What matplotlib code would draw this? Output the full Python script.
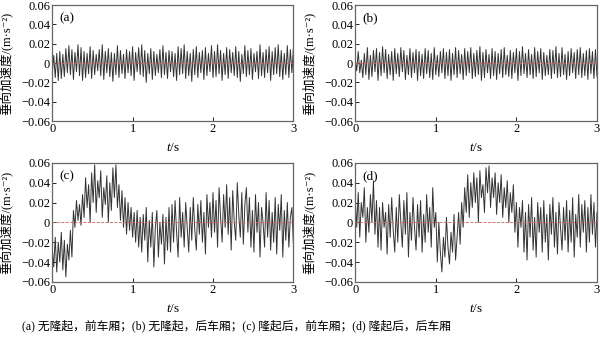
import matplotlib.pyplot as plt
import numpy as np

# ------------------------
# Data (vertical acceleration, in 1e-3 m/s^2)
# ------------------------
acc_a = [
    -12, 8, -15, 10, -18, 12, -16, 9, -14, 15, -10, 18, -12, 14, -17, 11, -9, 19, -13, 16,
    -18, 12, -15, 10, -11, 17, -16, 13, -12, 9, -8, 14, -13, 19, -17, 12, -10, 15, -14, 11,
    -19, 10, -12, 18, -15, 13, -11, 9, -16, 14, -10, 12, -13, 17, -18, 11, -9, 16, -12, 19,
    -14, 13, -20, 10, -11, 15, -17, 12, -13, 9, -10, 14, -15, 18, -12, 11, -16, 13, -9, 12,
    -14, 10, -18, 17, -12, 15, -11, 19, -16, 12, -13, 10, -19, 14, -12, 17, -15, 11, -10, 13,
    -17, 16, -13, 10, -9, 18, -15, 12, -14, 19, -11, 13, -18, 10, -12, 16, -16, 14, -10, 11,
    -13, 17, -15, 12, -19, 9, -11, 18, -14, 13, -12, 15, -17, 10, -9, 12, -16, 19, -13, 11,
    -15, 14, -10, 17, -18, 12, -12, 16, -11, 19, -14, 13, -17, 10, -12, 18, -15, 14, -10, 15,
]
acc_b = [
    5, -8, 12, -10, 3, -15, 10, -12, 16, -17, 8, -14, 13, -9, 15, -18, 11, -13, 17, -10,
    14, -16, 9, -12, 12, -18, 15, -11, 10, -14, 16, -9, 13, -17, 8, -12, 15, -15, 11, -10,
    14, -18, 12, -13, 9, -16, 15, -11, 13, -15, 10, -17, 16, -12, 8, -14, 12, -10, 15, -16,
    11, -13, 14, -18, 10, -12, 16, -15, 13, -11, 9, -17, 15, -13, 12, -10, 16, -16, 10, -14,
    13, -12, 17, -18, 11, -15, 14, -10, 9, -16, 15, -13, 12, -17, 10, -11, 14, -15, 16, -12,
    8, -14, 13, -16, 11, -10, 15, -18, 12, -13, 17, -11, 10, -15, 14, -12, 9, -16, 16, -14,
    12, -10, 15, -17, 11, -13, 8, -12, 14, -16, 13, -11, 17, -15, 10, -14, 16, -12, 9, -17,
    12, -13, 15, -10, 11, -16, 14, -12, 16, -15, 10, -13, 13, -17, 15, -11, 12, -16, 14, -14,
]
acc_c = [
    -25, -45, -15, -50, -20, -40, -10, -48, -18, -55, -22, -38, -8,
    -35, 12, -5, 22, 2, 18, -3, 28,
    5, 45, 15, 38, 0, 50, 20, 58, 10, 42, 25, 52, 5, 35, 18, 47, 0, 40, 12, 55, 25, 58, 15, 38,
    2, 32, -5, 25, -12, 20, -8, 15, -15, 10, -20, 12, -25,
    5, -30, 8, -18, 15, -40, 2, -25, 10, -45, -5, 12, -35, 0, -22, 8, -42, 5, -28, 15, -30,
    18, -20, 22, -10, -35, 25, -15, 10, -25, 20, -5, -30, 15, -18, 25, -8, -28, 18, -12, 22,
    -20, 10, -32, 28, -5, 20, -15,
    30, -10, 22, -25, 35, 5, -20, 28, -5, 38, -12, 25, -28, 32, 0, -18, 40, 8, -15, 30,
    -22, 18, 35, -10, 25, -25, 12,
    -30, 28, -10, 20, -35, 15, 0, -25, 30, -15, 22, -28, 10, -20, 25, -32, 18, -8, 28, -35,
    12, -18, 20, -25, 5, 15, -22,
]
acc_d = [
    25, -5, 30, -15, 20, 5, 35, -20, 15, -10, 28, 0, 42, -12, 22, -25,
    15, -28, 20, -5, 10, -32, 18, -15, 25, -8, -30, 15, -20, 28, 0, -25, 22, -12, 30, -35,
    10, -18, 25, -5, -28, 18, -15, 22, -30, 8, -20, 28, -10, 15, -25,
    35, -5, 10, -40, 0, -30, -50, -15, -35, 5, -25, -42, -10, -30, 8, -38, -15, 10, -22,
    20, -5, 35, 10, 48, 5, 40, 15, 50, 20, 45, 0, 52, 25, 38, 10, 55, 30, 57, 15,
    45, 25, 50, 8, 40, 20, 48, 5, 35, 15, 42, 0, 30, 10, 38,
    -10, 20, -25, 15, -5, 22, -30, 10, -38, 18, -15, 25, -28, 5, -35, 20, -10, 15, -30, 22,
    -20, 8, -38, 18, -12, 25, -25, 10, -32, 20, -5, -28, 15, -18, 22, -30, 12, -20, 25, -35,
    8, -15, 28, -25, 18, -10, 22, -30, 15, -20, 28, -12, 20, -25, 10,
]
panel_tags = ['(a)', '(b)', '(c)', '(d)']
y_ticks = [-0.06, -0.04, -0.02, 0, 0.02, 0.04, 0.06]
y_ticklabels = ['\u22120.06', '\u22120.04', '\u22120.02', '0', '0.02', '0.04', '0.06']
x_ticks = [0, 1, 2, 3]
y_title = '垂向加速度/(m·s\u207b\u00b2)'
caption = '(a) 无隆起，前车厢；(b) 无隆起，后车厢；(c) 隆起后，前车厢；(d) 隆起后，后车厢'

# ------------------------
# Style
# ------------------------
plt.rcParams['font.family'] = ['Liberation Serif', 'Noto Sans CJK SC', 'DejaVu Sans']
plt.rcParams['font.size'] = 9
plt.rcParams['mathtext.fontset'] = 'custom'
plt.rcParams['mathtext.rm'] = 'Liberation Serif'
plt.rcParams['mathtext.it'] = 'Liberation Serif:italic'

fig = plt.figure(figsize=(6, 3.4), dpi=100)
fig.patch.set_facecolor('white')

boxes = [
    [0.087, 0.644, 0.402, 0.341],
    [0.592, 0.644, 0.403, 0.341],
    [0.087, 0.171, 0.402, 0.350],
    [0.592, 0.171, 0.403, 0.350],
]

for box, tag, acc in zip(boxes, panel_tags, [acc_a, acc_b, acc_c, acc_d]):
    ax = fig.add_axes(box)
    y = np.array(acc) / 1000.0
    t = np.linspace(0, 3, len(y))
    ax.plot(t, y, color='#333333', linewidth=0.7, zorder=2)
    ax.axhline(0, color='#d06060', linestyle='--', linewidth=0.6, zorder=3)

    ax.set_xlim(0, 3)
    ax.set_ylim(-0.06, 0.06)
    ax.set_xticks(x_ticks)
    ax.set_xticklabels([str(v) for v in x_ticks])
    ax.set_yticks(y_ticks)
    ax.set_yticklabels(y_ticklabels)
    ax.tick_params(direction='in', length=3, width=0.6, labelsize=9, pad=1.5)
    for spine in ax.spines.values():
        spine.set_linewidth(0.9)
        spine.set_color('#666666')

    ax.set_xlabel('$t$/s', fontsize=9.5, labelpad=5)
    ax.set_ylabel(y_title, fontsize=9)
    ax.yaxis.set_label_coords(-0.163, 0.5)
    ax.text(0.03, 0.89, tag, transform=ax.transAxes, fontsize=9.5, va='center')

fig.text(0.037, 0.042, caption, fontsize=8.5, va='center', ha='left')

plt.savefig('out.png', dpi=100, facecolor='white')
